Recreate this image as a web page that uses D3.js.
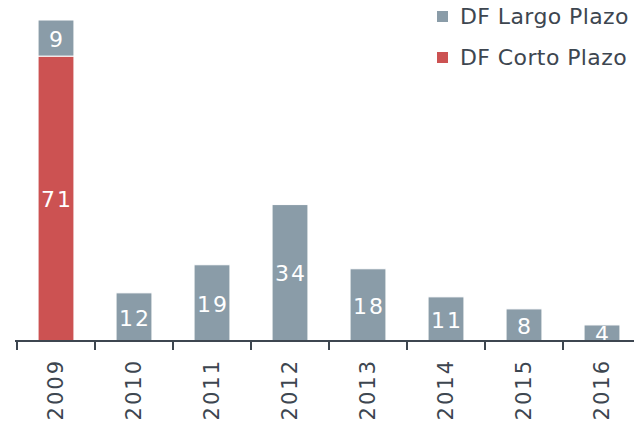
<!DOCTYPE html>
<html>
<head>
<meta charset="utf-8">
<script src="https://cdn.jsdelivr.net/npm/d3@7"></script>
<style>
  body { margin: 0; background: #fff; }
  svg { font-family: "DejaVu Sans", sans-serif; }
</style>
</head>
<body>
<div id="chart"></div>
<script>
var years = ["2009", "2010", "2011", "2012", "2013", "2014", "2015", "2016"];
var corto = [71, 0, 0, 0, 0, 0, 0, 0];
var largo = [9, 12, 19, 34, 18, 11, 8, 4];
var seriesNames = ["DF Largo Plazo", "DF Corto Plazo"];

var width = 634, height = 424;
var gray = "#8a9ca8", red = "#cc5252", ink = "#3d4650";

var svg = d3.select("#chart").append("svg")
  .attr("width", width)
  .attr("height", height);

var x = d3.scaleBand()
  .domain(years)
  .range([17, 641])
  .paddingInner(0.54)
  .paddingOuter(0.27);

var y = d3.scaleLinear()
  .domain([0, 80])
  .range([341, 20]);

// stacked rows: corto at the bottom, largo on top
var rows = years.map(function(yr, i) {
  return { year: yr, corto: corto[i], largo: largo[i] };
});
var stack = d3.stack().keys(["corto", "largo"])(rows);
var colors = { corto: red, largo: gray };

svg.append("clipPath").attr("id", "plot")
  .append("rect").attr("x", 0).attr("y", 0).attr("width", width).attr("height", y(0));

var layers = svg.append("g").attr("clip-path", "url(#plot)")
  .selectAll("g.layer")
  .data(stack)
  .enter().append("g")
  .attr("class", "layer");

layers.selectAll("rect")
  .data(function(s) { return s.map(function(d) { return { key: s.key, d: d }; }); })
  .enter().filter(function(p) { return p.d[1] - p.d[0] > 0; })
  .append("rect")
  .attr("x", function(p) { return x(p.d.data.year); })
  .attr("width", x.bandwidth())
  .attr("y", function(p) { return y(p.d[1]); })
  .attr("height", function(p) { return y(p.d[0]) - y(p.d[1]); })
  .style("fill", function(p) { return colors[p.key]; })
  .style("stroke", "#fff")
  .style("stroke-width", 1);

layers.selectAll("text")
  .data(function(s) { return s.map(function(d) { return { key: s.key, d: d }; }); })
  .enter().filter(function(p) { return p.d[1] - p.d[0] > 0; })
  .append("text")
  .attr("x", function(p) { return x(p.d.data.year) + x.bandwidth() / 2 + 1; })
  .attr("y", function(p) { return (y(p.d[0]) + y(p.d[1])) / 2 + 1; })
  .attr("dy", "0.35em")
  .attr("text-anchor", "middle")
  .style("fill", "#fff")
  .style("font-size", "22px")
  .style("letter-spacing", "2px")
  .text(function(p) { return p.d[1] - p.d[0]; });

// axis
var step = x.step(), off = (step - x.bandwidth()) / 2;
var axis = svg.append("g");
axis.append("line")
  .attr("x1", 15).attr("x2", width)
  .attr("y1", y(0)).attr("y2", y(0))
  .style("stroke", ink).style("stroke-width", 2);
axis.selectAll("line.tick")
  .data(years)
  .enter().append("line")
  .attr("class", "tick")
  .attr("x1", function(d) { return x(d) - off; })
  .attr("x2", function(d) { return x(d) - off; })
  .attr("y1", y(0)).attr("y2", y(0) + 9)
  .style("stroke", ink).style("stroke-width", 2);
axis.selectAll("text")
  .data(years)
  .enter().append("text")
  .attr("transform", function(d) {
    return "translate(" + (x(d) + x.bandwidth() / 2) + "," + 359 + ") rotate(-90)";
  })
  .attr("dy", "0.35em")
  .attr("text-anchor", "end")
  .style("fill", ink)
  .style("font-size", "21px")
  .style("letter-spacing", "2px")
  .text(function(d) { return d; });

// legend
var legend = svg.selectAll("g.legend")
  .data(seriesNames)
  .enter().append("g")
  .attr("class", "legend")
  .attr("transform", function(d, i) { return "translate(437," + (11 + i * 41) + ")"; });
legend.append("rect")
  .attr("width", 11).attr("height", 11)
  .style("fill", function(d, i) { return i === 0 ? gray : red; });
legend.append("text")
  .attr("x", 23).attr("y", 5.5).attr("dy", "0.35em")
  .style("fill", ink)
  .style("font-size", "22px")
  .style("letter-spacing", "0.4px")
  .text(function(d) { return d; });
</script>
</body>
</html>
